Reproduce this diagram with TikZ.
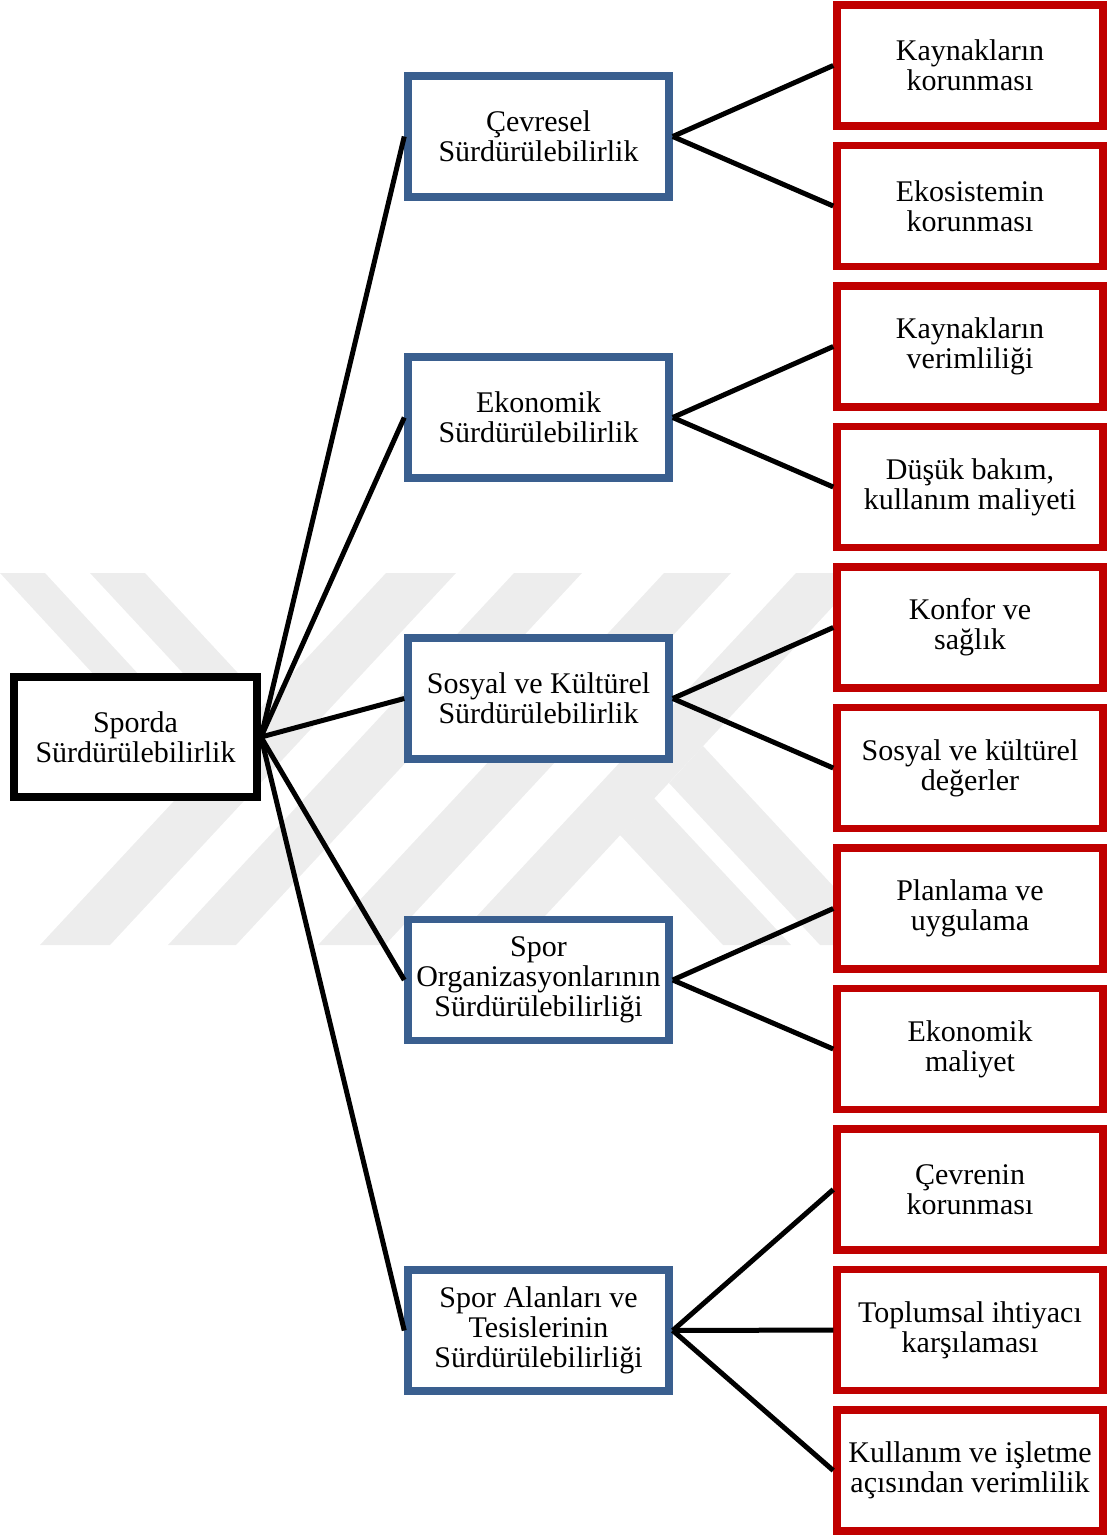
\documentclass[tikz,border=0pt]{standalone}
\usepackage{fontspec}
\setmainfont{Liberation Serif}
\usepackage{tikz}
\usepackage{xcolor}
\usetikzlibrary{positioning}
\definecolor{pillarblue}{HTML}{3A5F8F}
\definecolor{itemred}{HTML}{C00000}
\definecolor{markgray}{HTML}{EDEDED}
\newcommand{\diagfont}{\fontsize{30}{30}\selectfont}
\tikzset{
    % Root box style
    rootbox/.style={
        rectangle,
        draw=black,
        fill=white,
        line width=8pt,
        minimum width=243pt,
        minimum height=120pt,
        inner sep=2pt,
        align=center,
        font=\diagfont
    },
    % Pillar box style
    pillarbox/.style={
        rectangle,
        draw=pillarblue,
        fill=white,
        line width=7.5pt,
        minimum width=261pt,
        minimum height=121pt,
        inner sep=2pt,
        align=center,
        font=\diagfont
    },
    % Item box style
    itembox/.style={
        rectangle,
        draw=itemred,
        fill=white,
        line width=7.5pt,
        minimum width=266pt,
        minimum height=121pt,
        inner sep=2pt,
        align=center,
        font=\diagfont
    },
    % Connector style
    link/.style={
        line width=5pt,
        color=black
    },
    % Background mark style
    mark band/.style={
        fill=markgray,
        draw=none
    }
}

\begin{document}
\begin{tikzpicture}[x=1pt, y=-1pt]

        \useasboundingbox (0,0) rectangle (1109,1535);

        % Background mark
        \fill[mark band] (0,573) -- (45,573) -- (190,730) -- (145,730) -- cycle;
        \fill[mark band] (90,573) -- (145,573) -- (250,686) -- (195,686) -- cycle;
        \fill[mark band] (40,945) -- (110,945) -- (456,573) -- (386,573) -- cycle;
        \fill[mark band] (168,945) -- (236,945) -- (582,573) -- (514,573) -- cycle;
        \fill[mark band] (318,945) -- (385,945) -- (731,573) -- (664,573) -- cycle;
        \fill[mark band] (450,945) -- (518,945) -- (864,573) -- (796,573) -- cycle;
        \fill[mark band] (669,783) -- (703,746) -- (888,945) -- (820,945) -- cycle;
        \fill[mark band] (620,835) -- (654,798) -- (791,945) -- (723,945) -- cycle;

        % Root
        \node[rootbox] (sporda) at (135.5, 737) {Sporda\\Sürdürülebilirlik};

        % Pillars
        \node[pillarbox] (cevresel) at (538.5, 136.5) {Çevresel\\Sürdürülebilirlik};
        \node[pillarbox] (ekonomik) at (538.5, 417.5) {Ekonomik\\Sürdürülebilirlik};
        \node[pillarbox] (sosyal) at (538.5, 698.5) {Sosyal ve Kültürel\\Sürdürülebilirlik};
        \node[pillarbox] (organizasyon) at (538.5, 980) {Spor\\Organizasyonlarının\\Sürdürülebilirliği};
        \node[pillarbox] (tesis) at (538.5, 1330.5) {Spor Alanları ve\\Tesislerinin\\Sürdürülebilirliği};

        % Items
        \node[itembox] (kaynakkoruma) at (970, 65.5) {Kaynakların\\korunması};
        \node[itembox] (ekosistem) at (970, 206) {Ekosistemin\\korunması};
        \node[itembox] (kaynakverim) at (970, 346.5) {Kaynakların\\verimliliği};
        \node[itembox] (bakim) at (970, 487) {Düşük bakım,\\kullanım maliyeti};
        \node[itembox] (konfor) at (970, 627.5) {Konfor ve\\sağlık};
        \node[itembox] (degerler) at (970, 768) {Sosyal ve kültürel\\değerler};
        \node[itembox] (planlama) at (970, 908.5) {Planlama ve\\uygulama};
        \node[itembox] (maliyet) at (970, 1049) {Ekonomik\\maliyet};
        \node[itembox] (cevrekoruma) at (970, 1189.5) {Çevrenin\\korunması};
        \node[itembox] (ihtiyac) at (970, 1330) {Toplumsal ihtiyacı\\karşılaması};
        \node[itembox] (verimlilik) at (970, 1470.5) {Kullanım ve işletme\\açısından verimlilik};

        % Root to pillars
        \draw[link] (sporda.east) -- (cevresel.west);
        \draw[link] (sporda.east) -- (ekonomik.west);
        \draw[link] (sporda.east) -- (sosyal.west);
        \draw[link] (sporda.east) -- (organizasyon.west);
        \draw[link] (sporda.east) -- (tesis.west);

        % Pillars to items
        \draw[link] (cevresel.east) -- (kaynakkoruma.west);
        \draw[link] (cevresel.east) -- (ekosistem.west);
        \draw[link] (ekonomik.east) -- (kaynakverim.west);
        \draw[link] (ekonomik.east) -- (bakim.west);
        \draw[link] (sosyal.east) -- (konfor.west);
        \draw[link] (sosyal.east) -- (degerler.west);
        \draw[link] (organizasyon.east) -- (planlama.west);
        \draw[link] (organizasyon.east) -- (maliyet.west);
        \draw[link] (tesis.east) -- (cevrekoruma.west);
        \draw[link] (tesis.east) -- (ihtiyac.west);
        \draw[link] (tesis.east) -- (verimlilik.west);

    \end{tikzpicture}
\end{document}
